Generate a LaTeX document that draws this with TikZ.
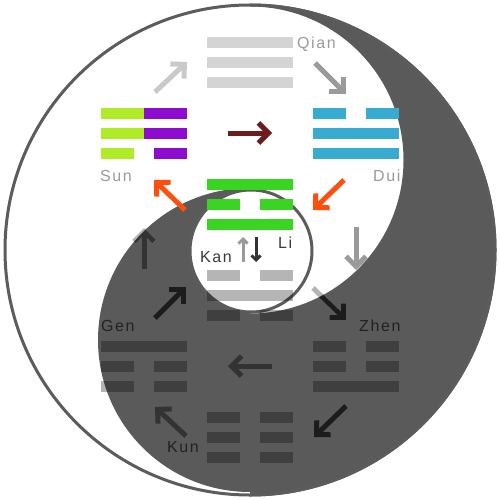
\documentclass[tikz,border=0pt]{standalone}
\usepackage{fontspec}
\newfontfamily\lab[LetterSpace=10]{Liberation Sans}
\usetikzlibrary{arrows.meta}
\definecolor{darkc}{HTML}{5A5A5A}
\definecolor{ringc}{HTML}{5C5C5C}
\definecolor{qianc}{HTML}{D4D4D4}
\definecolor{limec}{HTML}{AFEB27}
\definecolor{purpc}{HTML}{8E0CD0}
\definecolor{bluec}{HTML}{37ACD0}
\definecolor{greenc}{HTML}{3AD422}
\definecolor{redc}{HTML}{6E1B1B}
\definecolor{orangec}{HTML}{FF4F0F}
\definecolor{palec}{HTML}{C9C9C9}
\definecolor{midc}{HTML}{9A9A9A}
\definecolor{lightc}{HTML}{B4B4B4}
\definecolor{deepc}{HTML}{333333}
\definecolor{blackc}{HTML}{1C1C1C}
\definecolor{labgray}{HTML}{9A9A9A}
\definecolor{labdark}{HTML}{3A3A3A}
\definecolor{labblack}{HTML}{222222}
\newcommand\darkregion{(250,3.5) arc[start angle=-90,end angle=90,radius=246.5] -- (250,492) arc[start angle=90,end angle=270,radius=152] -- (250,313.5) arc[start angle=90,end angle=-90,radius=153.5] -- cycle}
\newcommand\solidbar[3]{\fill[#3] (#1,#2) rectangle ++(86,10.8);}
\newcommand\brokenbar[3]{\fill[#3] (#1,#2) rectangle ++(33,10.8); \fill[#3] ({#1+53},#2) rectangle ++(33,10.8);}
\tikzset{
  shade bar/.style={fill=black, fill opacity=0.29},
  bigarrow/.style={line width=5pt, -{Straight Barb[length=10pt,width=20pt]}},
  smallarrow/.style={line width=3pt, -{Straight Barb[length=4.5pt,width=9pt]}},
  lbl/.style={font=\lab\fontsize{16}{16}\selectfont, inner sep=0pt, anchor=base west}
}
\begin{document}
\begin{tikzpicture}[x=1pt,y=-1pt]
\useasboundingbox (0,0) rectangle (500,500);
% yin-yang
\fill[darkc] \darkregion;
\draw[ringc, line width=3pt] (250,250) circle[radius=245];
\draw[ringc, line width=3pt, fill=white] (251,251) circle[radius=61];
% Qian
\solidbar{207}{37}{qianc}
\solidbar{207}{57}{qianc}
\solidbar{207}{77}{qianc}
% Sun (Xun)
\fill[limec] (101,108) rectangle (144,118.8);
\fill[purpc] (144,108) rectangle (187,118.8);
\fill[limec] (101,128) rectangle (144,138.8);
\fill[purpc] (144,128) rectangle (187,138.8);
\fill[limec] (101,148) rectangle (134,158.8);
\fill[purpc] (154,148) rectangle (187,158.8);
% Dui
\brokenbar{313}{108}{bluec}
\solidbar{313}{128}{bluec}
\solidbar{313}{148}{bluec}
% Li
\solidbar{207}{179}{greenc}
\brokenbar{207}{199}{greenc}
\solidbar{207}{219}{greenc}
% Kan
\brokenbar{207}{270}{shade bar}
\solidbar{207}{290}{shade bar}
\brokenbar{207}{310}{shade bar}
% Gen
\solidbar{101}{341}{shade bar}
\brokenbar{101}{361}{shade bar}
\brokenbar{101}{381}{shade bar}
% Zhen
\brokenbar{313}{341}{shade bar}
\brokenbar{313}{361}{shade bar}
\solidbar{313}{381}{shade bar}
% Kun
\brokenbar{207}{412}{shade bar}
\brokenbar{207}{432}{shade bar}
\brokenbar{207}{452}{shade bar}
% arrows
\coordinate (a1s) at (155,92);  \coordinate (a1e) at (187,62);
\coordinate (a2s) at (315,63);  \coordinate (a2e) at (346,94);
\coordinate (a3s) at (228,133); \coordinate (a3e) at (272,133);
\coordinate (a4s) at (185,210); \coordinate (a4e) at (154,180);
\coordinate (a5s) at (344,180); \coordinate (a5e) at (313,210);
\coordinate (a6s) at (356,227); \coordinate (a6e) at (356,270);
\coordinate (a7s) at (243,262); \coordinate (a7e) at (243,237);
\coordinate (a8s) at (256,237); \coordinate (a8e) at (256,262);
\coordinate (a9s) at (144,269); \coordinate (a9e) at (144,228);
\coordinate (a10s) at (155,318); \coordinate (a10e) at (186,287);
\coordinate (a11s) at (313,288); \coordinate (a11e) at (346,320);
\coordinate (a12s) at (272,366); \coordinate (a12e) at (228,366);
\coordinate (a13s) at (186,436); \coordinate (a13e) at (155,407);
\coordinate (a14s) at (346,406); \coordinate (a14e) at (314,437);
\draw[bigarrow, palec] (a1s) -- (a1e);
\draw[bigarrow, midc] (a2s) -- (a2e);
\draw[bigarrow, redc] (a3s) -- (a3e);
\draw[bigarrow, orangec] (a4s) -- (a4e);
\draw[bigarrow, orangec] (a5s) -- (a5e);
\draw[bigarrow, midc] (a6s) -- (a6e);
\draw[smallarrow, midc] (a7s) -- (a7e);
\draw[smallarrow, deepc] (a8s) -- (a8e);
\draw[bigarrow, lightc] (a9s) -- (a9e);
\draw[bigarrow, lightc] (a11s) -- (a11e);
\begin{scope}
\clip \darkregion;
\draw[bigarrow, deepc] (a9s) -- (a9e);
\draw[bigarrow, blackc] (a11s) -- (a11e);
\end{scope}
\draw[bigarrow, blackc] (a10s) -- (a10e);
\draw[bigarrow, deepc] (a12s) -- (a12e);
\draw[bigarrow, deepc] (a13s) -- (a13e);
\draw[bigarrow, blackc] (a14s) -- (a14e);
% labels
\node[lbl, text=labgray] (qian) at (297,48.5) {Qian};
\node[lbl, text=labgray] (sun) at (100,181) {Sun};
\node[lbl, text=labgray] (dui) at (373,181) {Dui};
\node[lbl, text=labdark] (li) at (278,248) {Li};
\node[lbl, text=labdark] (kan) at (200,262) {Kan};
\node[lbl, text=labblack] (gen) at (101,331.5) {Gen};
\node[lbl, text=labblack] (zhen) at (359,331.5) {Zhen};
\node[lbl, text=labblack] (kun) at (167,452) {Kun};
\end{tikzpicture}
\end{document}
